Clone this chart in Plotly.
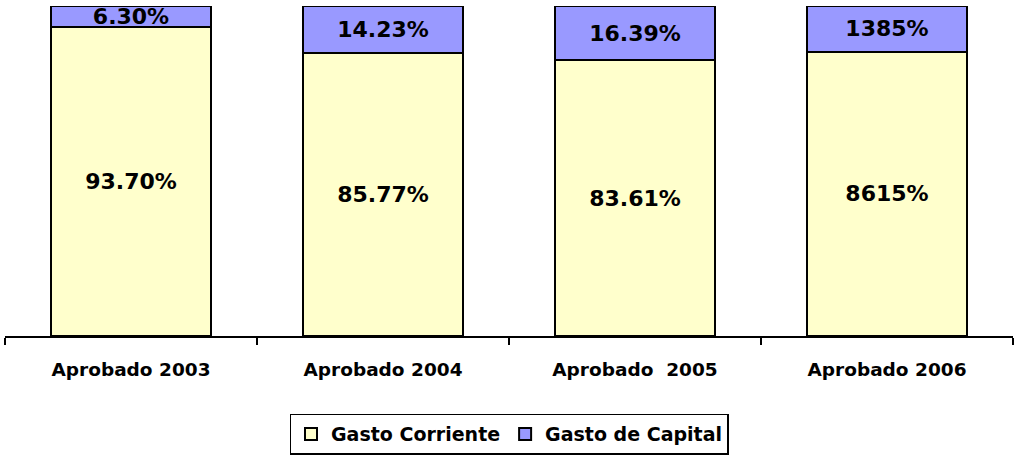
import plotly.graph_objects as go

categories = ["Aprobado 2003", "Aprobado 2004", "Aprobado \u00a02005", "Aprobado 2006"]
gasto_corriente = [93.70, 85.77, 83.61, 86.15]
gasto_capital = [6.30, 14.23, 16.39, 13.85]
labels_corriente = ["93.70%", "85.77%", "83.61%", "8615%"]
labels_capital = ["6.30%", "14.23%", "16.39%", "1385%"]

FONT = "DejaVu Sans"
pct_font = dict(family=FONT, size=22, color="black", weight="bold")

fig = go.Figure()
fig.add_trace(go.Bar(
    x=categories, y=gasto_corriente, name="Gasto Corriente",
    text=labels_corriente, textposition="inside", textangle=0,
    insidetextanchor="middle", constraintext="none",
    insidetextfont=pct_font,
    marker=dict(color="#FFFFCC", line=dict(color="black", width=2)),
    width=0.635, hoverinfo="skip",
))
fig.add_trace(go.Bar(
    x=categories, y=gasto_capital, name="Gasto de Capital",
    text=labels_capital, textposition="inside", textangle=0,
    insidetextanchor="middle", constraintext="none",
    insidetextfont=pct_font,
    marker=dict(color="#9999FF", line=dict(color="black", width=2)),
    width=0.635, hoverinfo="skip",
))

fig.update_layout(
    width=1016, height=457,
    barmode="stack",
    margin=dict(l=5, r=3, t=6, b=121),
    paper_bgcolor="white", plot_bgcolor="white",
    showlegend=True,
    legend=dict(
        orientation="h", x=0.5, xanchor="center", y=-0.235, yanchor="top",
        traceorder="normal",
        font=dict(family=FONT, size=19, color="black", weight="bold"),
        bordercolor="black", borderwidth=1.5, bgcolor="white",
        itemwidth=30,
    ),
    xaxis=dict(
        type="category", range=[-0.5, 3.5],
        showline=True, linecolor="black", linewidth=2,
        ticks="outside", tickson="boundaries", ticklen=7, tickwidth=2, tickcolor="black",
        ticklabelstandoff=16,
        tickfont=dict(family=FONT, size=18.5, color="black", weight="bold"),
        showgrid=False, zeroline=False,
    ),
    yaxis=dict(
        range=[0, 100], showticklabels=False, showgrid=False,
        zeroline=False, showline=False, ticks="",
    ),
)

fig.write_html(
    "out.html",
    config={"displayModeBar": False},
    post_script="document.body.style.margin='0';document.body.style.overflow='hidden';",
)
